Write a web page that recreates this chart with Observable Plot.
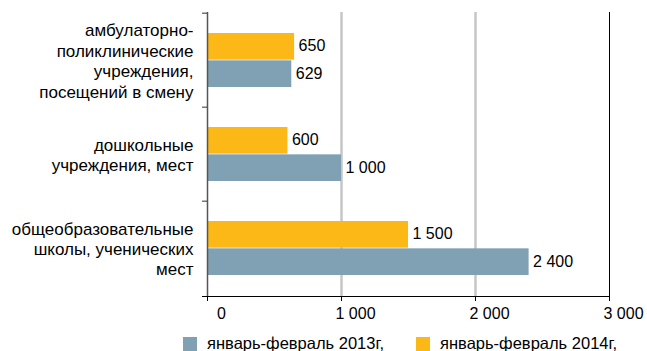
<!DOCTYPE html>
<html><head><meta charset="utf-8">
<script src="https://cdn.jsdelivr.net/npm/d3@7"></script>
<script src="https://cdn.jsdelivr.net/npm/@observablehq/plot@0.6"></script>
<style>
body{margin:0;background:#fff;font-family:"Liberation Sans",Arial,sans-serif;overflow:hidden;}
.lg-swatches{font-family:"Liberation Sans",Arial,sans-serif !important;font-size:16.5px !important;color:#000;flex-wrap:nowrap !important;white-space:nowrap;width:700px;}
.lg-swatch{margin-right:32px !important;white-space:nowrap;}
.lg-swatch > svg{margin-right:10px !important;}
</style></head><body><div id="chart"></div>
<script>
const categories = [
  "амбулаторно-\nполиклинические\nучреждения,\nпосещений в смену",
  "дошкольные\nучреждения, мест",
  "общеобразовательные\nшколы, ученических\nмест"
];
const series = ["январь-февраль 2013г,", "январь-февраль 2014г,"];
const values2013 = [629, 1000, 2400];
const values2014 = [650, 600, 1500];
const xTicks = [0, 1000, 2000, 3000];
const colors = ["#7fa1b3", "#fbb817"];

const rows2013 = categories.map((c, i) => ({category: c, value: values2013[i]}));
const rows2014 = categories.map((c, i) => ({category: c, value: values2014[i]}));
const fmt = d3.formatLocale({decimal: ",", thousands: " ", grouping: [3], currency: ["", ""]}).format(",d");

const W = 647, H = 327, mT = 12, mB = H - 296, mL = 207, mR = 38;
const bw = (H - mB - mT) / categories.length;
const pad = 20, half = bw / 2;

const chart = Plot.plot({
  width: W, height: H,
  marginTop: mT, marginBottom: mB, marginLeft: mL, marginRight: mR,
  style: {fontFamily: "'Liberation Sans', Arial, sans-serif", fontSize: "16px", color: "#000", background: "#fff"},
  x: {domain: [0, 3000]},
  y: {domain: categories, padding: 0},
  marks: [
    Plot.ruleX(xTicks.filter(d => d > 0 && d < 3000), {stroke: "#c6c6c6", strokeWidth: 2.5, strokeOpacity: 1}),
    Plot.ruleX([xTicks[xTicks.length - 1]], {stroke: "#000", strokeWidth: 1, strokeOpacity: 1}),
    Plot.barX(rows2014, {y: "category", x: "value", fill: colors[1], insetTop: pad, insetBottom: half}),
    Plot.barX(rows2013, {y: "category", x: "value", fill: colors[0], insetTop: half, insetBottom: pad}),
    Plot.text(rows2014, {y: "category", x: "value", text: d => fmt(d.value), textAnchor: "start", dx: 4, dy: -(half - pad) / 2 - 1, fontSize: 16, fill: "#000"}),
    Plot.text(rows2013, {y: "category", x: "value", text: d => fmt(d.value), textAnchor: "start", dx: 4, dy: (half - pad) / 2, fontSize: 16, fill: "#000"}),
    Plot.ruleX([0], {stroke: "#555", strokeWidth: 1.5, strokeOpacity: 1}),
    Plot.frame({anchor: "bottom", stroke: "#000", strokeOpacity: 1, insetLeft: -5}),
    Plot.axisY({tickSize: 0, tickPadding: 14, fontSize: 17, lineHeight: 1.2, label: null}),
    Plot.axisY({tickSize: 5, tickFormat: () => "", dy: -half, stroke: "#333", strokeOpacity: 1, label: null}),
    Plot.axisX({ticks: xTicks, tickSize: 5, tickFormat: () => "", stroke: "#000", strokeOpacity: 1, label: null}),
    Plot.axisX({ticks: xTicks, tickSize: 0, tickPadding: 11, tickFormat: fmt, dx: 14, fontSize: 16, label: null})
  ]
});
document.getElementById("chart").appendChild(chart);

const legend = Plot.legend({
  color: {type: "ordinal", domain: series, range: colors},
  swatchSize: 14, className: "lg", marginLeft: 183
});
document.getElementById("chart").appendChild(legend);
</script></body></html>
